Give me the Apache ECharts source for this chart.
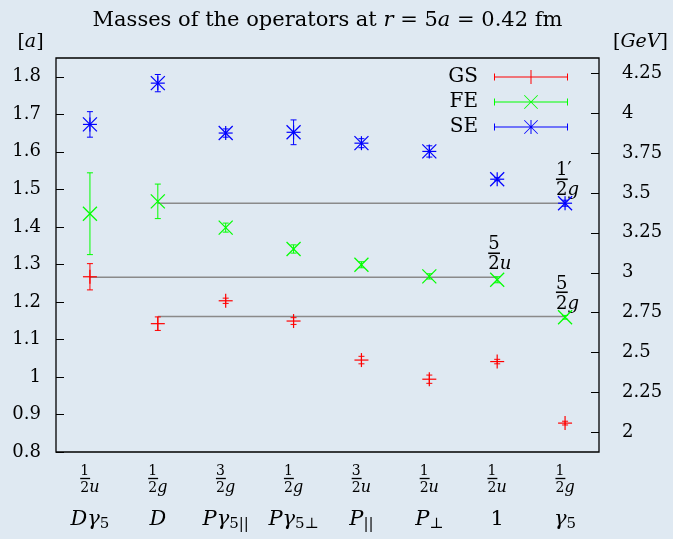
<!DOCTYPE html>
<html><head><meta charset="utf-8">
<script src="https://cdn.jsdelivr.net/npm/echarts@6/dist/echarts.min.js"></script>
<style>html,body{margin:0;padding:0;background:#dfe9f2}#c{width:673px;height:539px}</style>
</head><body><div id="c"></div><script>
// ---- data ----
const categories = [1, 2, 3, 4, 5, 6, 7, 8];
const fracNum = ['1', '1', '3', '1', '3', '1', '1', '1'];
const fracSub = ['u', 'g', 'g', 'g', 'u', 'u', 'u', 'g'];
const opMain = ['Dγ', 'D', 'Pγ', 'Pγ', 'P', 'P', '1', 'γ'];
const opSub = ['5', '', '5||', '5⊥', '||', '⊥', '', '5'];

const gsVal = [1.267, 1.142, 1.203, 1.149, 1.045, 0.994, 1.041, 0.877];
const gsErr = [0.035, 0.018, 0.007, 0.009, 0.010, 0.011, 0.006, 0.005];
const feVal = [1.435, 1.468, 1.398, 1.341, 1.299, 1.268, 1.259, 1.159];
const feErr = [0.109, 0.046, 0.012, 0.011, 0.008, 0.007, 0.008, 0.005];
const seVal = [1.673, 1.783, 1.650, 1.652, 1.623, 1.601, 1.527, 1.463];
const seErr = [0.034, 0.023, 0.011, 0.033, 0.012, 0.015, 0.004, 0.008];

const refY = [1.463, 1.266, 1.161];
const refStart = [2, 1, 2];
const refEnd = [8, 7, 8];
const refNum = ['1′', '5', '5'];
const refSub = ['g', 'u', 'g'];

const leftTicks = [0.8, 0.9, 1, 1.1, 1.2, 1.3, 1.4, 1.5, 1.6, 1.7, 1.8];
const rightTicks = [2, 2.25, 2.5, 2.75, 3, 3.25, 3.5, 3.75, 4, 4.25];
const aMin = 0.8, aMax = 1.85, gevPerA = 2.348;

// ---- styling ----
const F = 'DejaVu Serif';
const M = 'DejaVu Sans Mono';
const chart = echarts.init(document.getElementById('c'), null, {renderer: 'canvas'});

function markerRender(shape) {
  return function (params, api) {
    const x = api.value(0), v = api.value(1), e = api.value(2);
    const c = api.coord([x, v]), t = api.coord([x, v + e]), b = api.coord([x, v - e]);
    const col = api.visual('color');
    const L = (x1, y1, x2, y2, w) => ({type: 'line', shape: {x1, y1, x2, y2}, style: {stroke: col, lineWidth: w || 1}});
    const ch = [L(c[0], t[1], c[0], b[1]), L(c[0] - 3, t[1], c[0] + 3, t[1]), L(c[0] - 3, b[1], c[0] + 3, b[1])];
    const r = 7;
    if (shape === 'plus' || shape === 'star') ch.push(L(c[0] - r, c[1], c[0] + r, c[1], 1.2), L(c[0], c[1] - r, c[0], c[1] + r, 1.2));
    if (shape === 'cross' || shape === 'star') ch.push(L(c[0] - r, c[1] - r, c[0] + r, c[1] + r, 1.2), L(c[0] - r, c[1] + r, c[0] + r, c[1] - r, 1.2));
    return {type: 'group', children: ch};
  };
}
const mk = (vals, errs) => categories.map((c, i) => [c, vals[i], errs[i]]);

const fracRichSmall = {
  n: {fontFamily: F, fontSize: 14, fontWeight: 'normal', lineHeight: 12, align: 'left', color: '#000'},
  b: {fontFamily: M, fontSize: 16, lineHeight: 5, align: 'left', color: '#000'},
  d: {fontFamily: F, fontSize: 14, fontWeight: 'normal', lineHeight: 12, align: 'left', color: '#000'},
  s: {fontFamily: F, fontSize: 16, fontWeight: 'normal', fontStyle: 'italic', lineHeight: 12, align: 'left', color: '#000'}
};
const fracRichBig = {
  n: {fontFamily: F, fontSize: 18, lineHeight: 15, align: 'left', fill: '#000'},
  b: {fontFamily: M, fontSize: 19, lineHeight: 5, align: 'left', fill: '#000'},
  d: {fontFamily: F, fontSize: 18, lineHeight: 15, align: 'left', fill: '#000'},
  s: {fontFamily: F, fontSize: 18, fontStyle: 'italic', lineHeight: 15, align: 'left', fill: '#000'}
};

const lineBase = 'M0 6.5H74V7.5H0Z M0 3.5H1V10.5H0Z M73 3.5H74V10.5H73Z';
const plusP = ' M36.5 0H37.5V14H36.5Z';
const crossP = ' M30 0.6L30.6 0L44 13.4L43.4 14Z M43.4 0L44 0.6L30.6 14L30 13.4Z';

const refData = refY.map((y, i) => [refStart[i], refEnd[i], y, i]);

const option = {
  animation: false,
  backgroundColor: '#dfe9f2',
  title: {
    text: '{t|Masses of the operators at }{i|r}{t| = 5}{i|a}{t| = 0.42 fm}',
    left: 327.5, top: 10, textAlign: 'center', padding: 0,
    textStyle: {
      fontWeight: 'normal',
      rich: {
        t: {fontFamily: F, fontSize: 21, fontWeight: 'normal', lineHeight: 22, color: '#000'},
        i: {fontFamily: F, fontSize: 21, fontWeight: 'normal', lineHeight: 22, fontStyle: 'italic', color: '#000'}
      }
    }
  },
  legend: {
    orient: 'vertical', right: 105, top: 67, align: 'right', padding: 0,
    itemWidth: 74, itemHeight: 14, itemGap: 5, selectedMode: false,
    itemStyle: {borderWidth: 0},
    textStyle: {fontFamily: F, fontSize: 20, color: '#000', lineHeight: 20, padding: [0, 11, 0, 0]},
    data: [
      {name: 'GS', icon: 'path://' + lineBase + plusP},
      {name: 'FE', icon: 'path://' + lineBase + crossP},
      {name: 'SE', icon: 'path://' + lineBase + plusP + crossP}
    ]
  },
  grid: {left: 56, right: 74, top: 58, bottom: 87, show: true, borderColor: '#000', borderWidth: 1.3, backgroundColor: 'transparent'},
  xAxis: [
    {
      type: 'value', min: 0.5, max: 8.5, position: 'bottom',
      axisLine: {show: false}, axisTick: {show: false}, splitLine: {show: false},
      axisLabel: {
        customValues: categories, margin: 13, color: '#000',
        formatter: v => { const i = categories.indexOf(v); return '{n|' + fracNum[i] + '}\n{b|─}\n{d|2}{s|' + fracSub[i] + '}'; },
        rich: fracRichSmall
      }
    },
    {
      type: 'value', min: 0.5, max: 8.5, position: 'bottom',
      axisLine: {show: false}, axisTick: {show: false}, splitLine: {show: false},
      axisLabel: {
        customValues: categories, margin: 58, color: '#000',
        formatter: v => {
          const i = categories.indexOf(v);
          const main = opMain[i] === '1' ? '{r|1}' : '{m|' + opMain[i] + '}';
          return main + (opSub[i] ? '{u|' + opSub[i] + '}' : '');
        },
        rich: {
          m: {fontFamily: F, fontSize: 21, fontStyle: 'italic', lineHeight: 20, color: '#000'},
          r: {fontFamily: F, fontSize: 21, lineHeight: 20, color: '#000'},
          u: {fontFamily: F, fontSize: 15, lineHeight: 20, padding: [8, 0, 0, 0], color: '#000'}
        }
      }
    }
  ],
  yAxis: [
    {
      type: 'value', min: aMin, max: aMax, position: 'left',
      name: '{b|[}{i|a}{b|]}', nameLocation: 'end', nameGap: 6,
      nameTextStyle: {padding: [0, 51, 0, 0], rich: {
        b: {fontFamily: F, fontSize: 19, lineHeight: 20, color: '#000'},
        i: {fontFamily: F, fontSize: 19, lineHeight: 20, fontStyle: 'italic', color: '#000'}}},
      axisLine: {show: false}, splitLine: {show: false},
      axisTick: {inside: true, length: 8, customValues: leftTicks, lineStyle: {color: '#000', width: 1}},
      axisLabel: {customValues: leftTicks, margin: 15, fontFamily: F, fontSize: 18, color: '#000'}
    },
    {
      type: 'value', min: aMin * gevPerA, max: aMax * gevPerA, position: 'right',
      name: '{b|[}{i|GeV}{b|]}', nameLocation: 'end', nameGap: 6,
      nameTextStyle: {padding: [0, 0, 0, 83], rich: {
        b: {fontFamily: F, fontSize: 19, lineHeight: 20, color: '#000'},
        i: {fontFamily: F, fontSize: 19, lineHeight: 20, fontStyle: 'italic', color: '#000'}}},
      axisLine: {show: false}, splitLine: {show: false},
      axisTick: {inside: true, length: 8, customValues: rightTicks, lineStyle: {color: '#000', width: 1}},
      axisLabel: {customValues: rightTicks, margin: 23, fontFamily: F, fontSize: 18, color: '#000'}
    }
  ],
  series: [
    {
      type: 'custom', name: 'ref', xAxisIndex: 0, yAxisIndex: 0, clip: false, silent: true, z: 1,
      data: refData, encode: {x: [0, 1], y: 2},
      renderItem: (params, api) => {
        const i = api.value(3);
        const p1 = api.coord([api.value(0), api.value(2)]);
        const p2 = api.coord([api.value(1), api.value(2)]);
        return {type: 'group', children: [
          {type: 'line', shape: {x1: p1[0], y1: p1[1], x2: p2[0], y2: p2[1]}, style: {stroke: '#8a8a8a', lineWidth: 1.5}},
          {type: 'text', x: p2[0] - 9, y: p2[1] - 5, style: {
            text: '{n|' + refNum[i] + '}\n{b|─}\n{d|2}{s|' + refSub[i] + '}',
            rich: fracRichBig, align: 'left', verticalAlign: 'bottom', fill: '#000'}}
        ]};
      }
    },
    {type: 'custom', name: 'GS', itemStyle: {color: '#ff0000'}, data: mk(gsVal, gsErr), encode: {x: 0, y: 1}, renderItem: markerRender('plus'), z: 3},
    {type: 'custom', name: 'FE', itemStyle: {color: '#00ff00'}, data: mk(feVal, feErr), encode: {x: 0, y: 1}, renderItem: markerRender('cross'), z: 3},
    {type: 'custom', name: 'SE', itemStyle: {color: '#0000ff'}, data: mk(seVal, seErr), encode: {x: 0, y: 1}, renderItem: markerRender('star'), z: 3}
  ]
};
chart.setOption(option);
</script></body></html>
